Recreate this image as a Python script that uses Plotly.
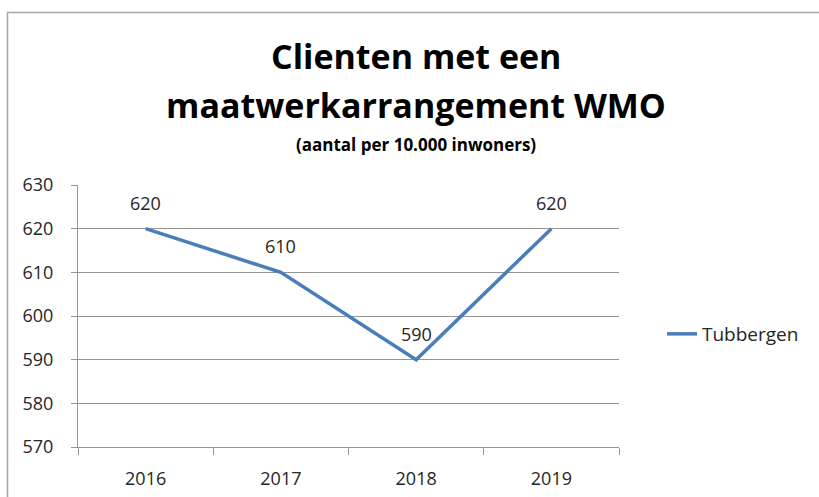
import plotly.graph_objects as go

# Data
years = ["2016", "2017", "2018", "2019"]
tubbergen = [620, 610, 590, 620]
series_name = "Tubbergen"
y_ticks = [570, 580, 590, 600, 610, 620, 630]

title_line1 = "Clienten met een"
title_line2 = "maatwerkarrangement WMO"
subtitle = "(aantal per 10.000 inwoners)"

W, H = 819, 497
ML, MR, MT, MB = 78, 200, 185, 50
PW, PH = W - ML - MR, H - MT - MB

def px_x(px):
    return (px - ML) / PW

def px_y(py):
    return (H - MB - py) / PH

FONT = "Open Sans"
TXT = "#262626"
GRID = "#959595"
LINE = "#4A7EBB"

fig = go.Figure()
fig.add_trace(go.Scatter(
    x=years, y=tubbergen, mode="lines", name=series_name,
    line=dict(color=LINE, width=3.5),
    showlegend=True,
))

# value labels above each point (category index on the x axis)
for i, yv in enumerate(tubbergen):
    fig.add_annotation(xref="x", yref="y", x=i, y=yv, text=str(yv),
                       showarrow=False, yshift=26, yanchor="middle",
                       font=dict(family=FONT, size=18, color=TXT))

# title block
cx = px_x(416)
for txt, cy, size in [(title_line1, 55.5, 34), (title_line2, 104.5, 34), (subtitle, 144, 17)]:
    fig.add_annotation(xref="paper", yref="paper", x=cx, y=px_y(cy),
                       text=f"<b>{txt}</b>", showarrow=False,
                       xanchor="center", yanchor="middle",
                       font=dict(family=FONT, size=size, color="#000000"))

# chart-area border
fig.add_shape(type="rect", xref="paper", yref="paper",
              x0=px_x(7.5), x1=px_x(840), y0=px_y(12.5), y1=px_y(520),
              line=dict(color="#a6a6a6", width=1.5), layer="above")

fig.update_layout(
    width=W, height=H,
    margin=dict(l=ML, r=MR, t=MT, b=MB, pad=0, autoexpand=False),
    paper_bgcolor="white", plot_bgcolor="white",
    font=dict(family=FONT, size=18, color=TXT),
    showlegend=True,
    legend=dict(x=px_x(662), y=px_y(334), xanchor="left", yanchor="middle",
                bgcolor="rgba(0,0,0,0)", font=dict(family=FONT, size=19, color=TXT)),
)

fig.update_xaxes(
    type="category", range=[-0.5, 3.5], automargin=False,
    showgrid=False, showline=True, linecolor=GRID, linewidth=1,
    ticks="outside", tickson="boundaries", ticklen=7, tickcolor=GRID,
    ticklabelstandoff=15,
    tickfont=dict(family=FONT, size=18, color=TXT),
)
fig.update_yaxes(
    range=[570, 630], tickvals=y_ticks, automargin=False,
    showgrid=True, gridcolor=GRID, gridwidth=1,
    showline=True, linecolor=GRID, linewidth=1,
    ticks="outside", ticklen=6, tickcolor=GRID,
    ticklabelstandoff=14, zeroline=False,
    tickfont=dict(family=FONT, size=18, color=TXT),
)

fig.write_html("out.html")
